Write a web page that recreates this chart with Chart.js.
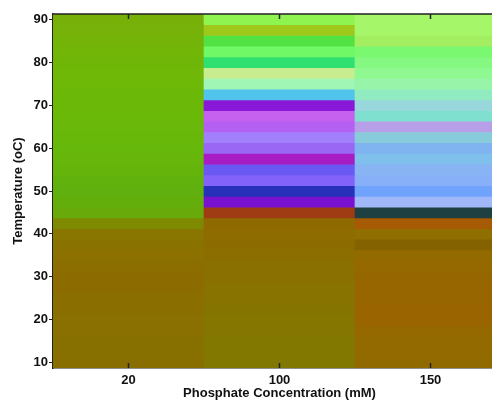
<!DOCTYPE html>
<html>
<head>
<meta charset="utf-8">
<script src="https://cdn.jsdelivr.net/npm/chart.js@4.4.0/dist/chart.umd.min.js"></script>
<style>
  html, body { margin: 0; padding: 0; overflow: hidden; background: #fff; }
  #wrap { width: 506px; height: 400px; }
</style>
</head>
<body>
<div id="wrap"><canvas id="grafico" width="506" height="400"></canvas></div>
<script>
// phosphate concentration columns (mM)
const concentrations = ['20', '100', '150'];

// temperature bands (oC), top to bottom
const temperatures = [90, 87.5, 85, 82.5, 80, 77.5, 75, 72.5, 70, 67.5, 65, 62.5, 60, 57.5, 55, 52.5, 50,
  47.5, 45, 42.5, 40, 37.5, 35, 32.5, 30, 27.5, 25, 22.5, 20, 17.5, 15, 12.5, 10];

const yTicks = [10, 20, 30, 40, 50, 60, 70, 80, 90];

// observed colour of each band, one list per concentration
const colors20 = ['#78b00a', '#76b20a', '#74b408', '#72b608', '#70b608', '#70b808', '#6eb808', '#6cb808',
  '#6cb808', '#6ab808', '#6ab80a', '#68b80a', '#66b80a', '#66b60c', '#64b40c', '#62b20e', '#60b010',
  '#64ae0c', '#68aa0a', '#7e8a02', '#887600', '#8a7200', '#8c7000', '#8c6e00', '#8c6c00', '#8c6c00',
  '#8b6e00', '#8a6e00', '#8a7000', '#8a7000', '#887000', '#887000', '#886e00'];

const colors100 = ['#90f450', '#9ec81a', '#52e244', '#70f866', '#30e070', '#c8ec90', '#a0f6b4', '#50c4ec',
  '#8a18d8', '#c660ee', '#b460f2', '#a280fc', '#9a66f4', '#a81cc4', '#6a58f2', '#8262f8', '#2630b8',
  '#7812d0', '#a03c14', '#8e6a00', '#8e6c00', '#8c6c00', '#8c6e00', '#8a7000', '#8a7000', '#887200',
  '#887200', '#867400', '#857600', '#847600', '#827800', '#827800', '#807800'];

const colors150 = ['#a6f66a', '#a6f66a', '#a4ee62', '#7af870', '#84f880', '#90f890', '#98f4a8', '#90ecc0',
  '#98d8dc', '#80e0d0', '#b8a0e8', '#88ccdc', '#80b4f0', '#80c0ec', '#88b4f4', '#88b0f8', '#70a4fc',
  '#a0b8f8', '#1e4040', '#a65a04', '#906e00', '#846200', '#926a00', '#966800', '#966600', '#986600',
  '#986600', '#9a6400', '#9a6400', '#966800', '#926a00', '#926a00', '#906a00'];

const passo = temperatures[0] - temperatures[1];
const fonte = "'Liberation Sans', Arial, Helvetica, sans-serif";

const datasets = temperatures.map((t, i) => ({
  data: concentrations.map(() => [t - passo / 2, t + passo / 2]),
  backgroundColor: [colors20[i], colors100[i], colors150[i]],
  borderWidth: 0,
  grouped: false,
  barPercentage: 1,
  categoryPercentage: 1
}));

// top frame line and inward x ticks, like the original plot
const moldura = {
  id: 'moldura',
  afterDraw(chart) {
    const { ctx, chartArea: a, scales: { x } } = chart;
    ctx.save();
    ctx.strokeStyle = '#222';
    ctx.lineWidth = 1.5;
    ctx.beginPath();
    ctx.moveTo(a.left, a.top);
    ctx.lineTo(a.right, a.top);
    x.ticks.forEach((tick, i) => {
      const px = x.getPixelForTick(i);
      ctx.moveTo(px, a.bottom);
      ctx.lineTo(px, a.bottom - 5);
      ctx.moveTo(px, a.top);
      ctx.lineTo(px, a.top + 5);
    });
    ctx.stroke();
    ctx.restore();
  }
};

new Chart(document.getElementById('grafico'), {
  type: 'bar',
  data: { labels: concentrations, datasets: datasets },
  plugins: [moldura],
  options: {
    responsive: false,
    animation: false,
    devicePixelRatio: 1,
    layout: { padding: { top: 14, right: 0, bottom: 0, left: 0 } },
    plugins: { legend: { display: false }, tooltip: { enabled: false } },
    scales: {
      x: {
        z: 1,
        afterFit: (scale) => { scale.height = 32; },
        grid: { display: true, drawOnChartArea: false, drawTicks: false },
        border: { display: true, color: '#222', width: 1.5 },
        ticks: { color: '#111', padding: 6, font: { family: fonte, size: 13, weight: 'bold', lineHeight: 1 } },
        title: {
          display: true,
          text: 'Phosphate Concentration (mM)',
          color: '#111',
          padding: { top: 0, bottom: 0 },
          font: { family: fonte, size: 13, weight: 'bold', lineHeight: 1 }
        }
      },
      y: {
        z: 1,
        min: 8.75,
        max: 91.25,
        afterFit: (scale) => { scale.width = 53; },
        afterBuildTicks: (scale) => { scale.ticks = yTicks.map(v => ({ value: v })); },
        grid: { display: true, drawOnChartArea: false, drawTicks: true, tickLength: 4, color: '#222' },
        border: { display: true, color: '#222', width: 1.5 },
        ticks: { color: '#111', padding: 1, font: { family: fonte, size: 13, weight: 'bold' } },
        title: {
          display: true,
          text: 'Temperature (oC)',
          color: '#111',
          padding: { top: 12, bottom: 0 },
          font: { family: fonte, size: 13, weight: 'bold', lineHeight: 1 }
        }
      }
    }
  }
});
</script>
</body>
</html>
